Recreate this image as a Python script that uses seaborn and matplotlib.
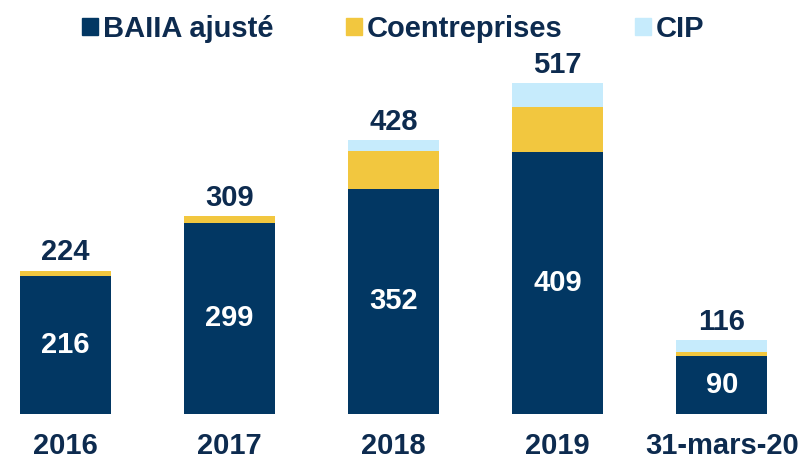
import numpy as np
import pandas as pd
import matplotlib
matplotlib.use("Agg")
import matplotlib.pyplot as plt
import seaborn as sns
from matplotlib.patches import Patch

categories = ["2016", "2017", "2018", "2019", "31-mars-20"]
baiia = [216, 299, 352, 409, 90]
coentreprises = [8, 10, 59, 71, 7]
cip = [0, 0, 17, 37, 19]
totals = [224, 309, 428, 517, 116]

NAVY = "#023763"
YELLOW = "#F2C73F"
LIGHT = "#C6EBFC"
TEXT = "#0D2B4F"

sns.set_theme(style="white")
plt.rcParams["font.family"] = ["Liberation Sans", "DejaVu Sans"]
plt.rcParams["font.weight"] = "bold"

df = pd.DataFrame({
    "cat": categories,
    "baiia": baiia,
    "coent": coentreprises,
    "cip": cip,
})
df["lvl2"] = df["baiia"] + df["coent"]
df["lvl3"] = df["lvl2"] + df["cip"]

fig = plt.figure(figsize=(8.11, 4.63), dpi=100)
ax = fig.add_axes([0, 49 / 463, 1, 414 / 463])

# stacked bars: draw cumulative totals back to front
for col, color in [("lvl3", LIGHT), ("lvl2", YELLOW), ("baiia", NAVY)]:
    sns.barplot(data=df, x="cat", y=col, color=color, saturation=1,
                width=0.555, ax=ax, linewidth=0)

ax.set_xlim(-0.399, 4.543)
ax.set_ylim(0, 414 / 0.64)

for i, (b, t) in enumerate(zip(baiia, totals)):
    ax.text(i, b / 2, str(b), ha="center", va="center", color="white",
            fontsize=21, fontweight="bold")
    ax.annotate(str(t), (i, t), xytext=(0, 3), textcoords="offset points",
                ha="center", va="bottom", color=TEXT, fontsize=21,
                fontweight="bold")

ax.set_xlabel("")
ax.set_ylabel("")
ax.set_yticks([])
ax.tick_params(axis="x", length=0, pad=13, labelsize=21, labelcolor=TEXT)
for lbl in ax.get_xticklabels():
    lbl.set_fontweight("bold")
sns.despine(ax=ax, left=True, bottom=True)

handles = [Patch(color=NAVY), Patch(color=YELLOW), Patch(color=LIGHT)]
labels = ["BAIIA ajusté", "Coentreprises", "CIP"]
leg = fig.legend(handles, labels, loc="upper center", bbox_to_anchor=(0.485, 1.025),
                 ncol=3, frameon=False, fontsize=21, handlelength=0.55,
                 handleheight=0.55, handletextpad=0.15, columnspacing=2.5)
for txt in leg.get_texts():
    txt.set_color(TEXT)
    txt.set_fontweight("bold")

fig.savefig("out.png", dpi=100)
